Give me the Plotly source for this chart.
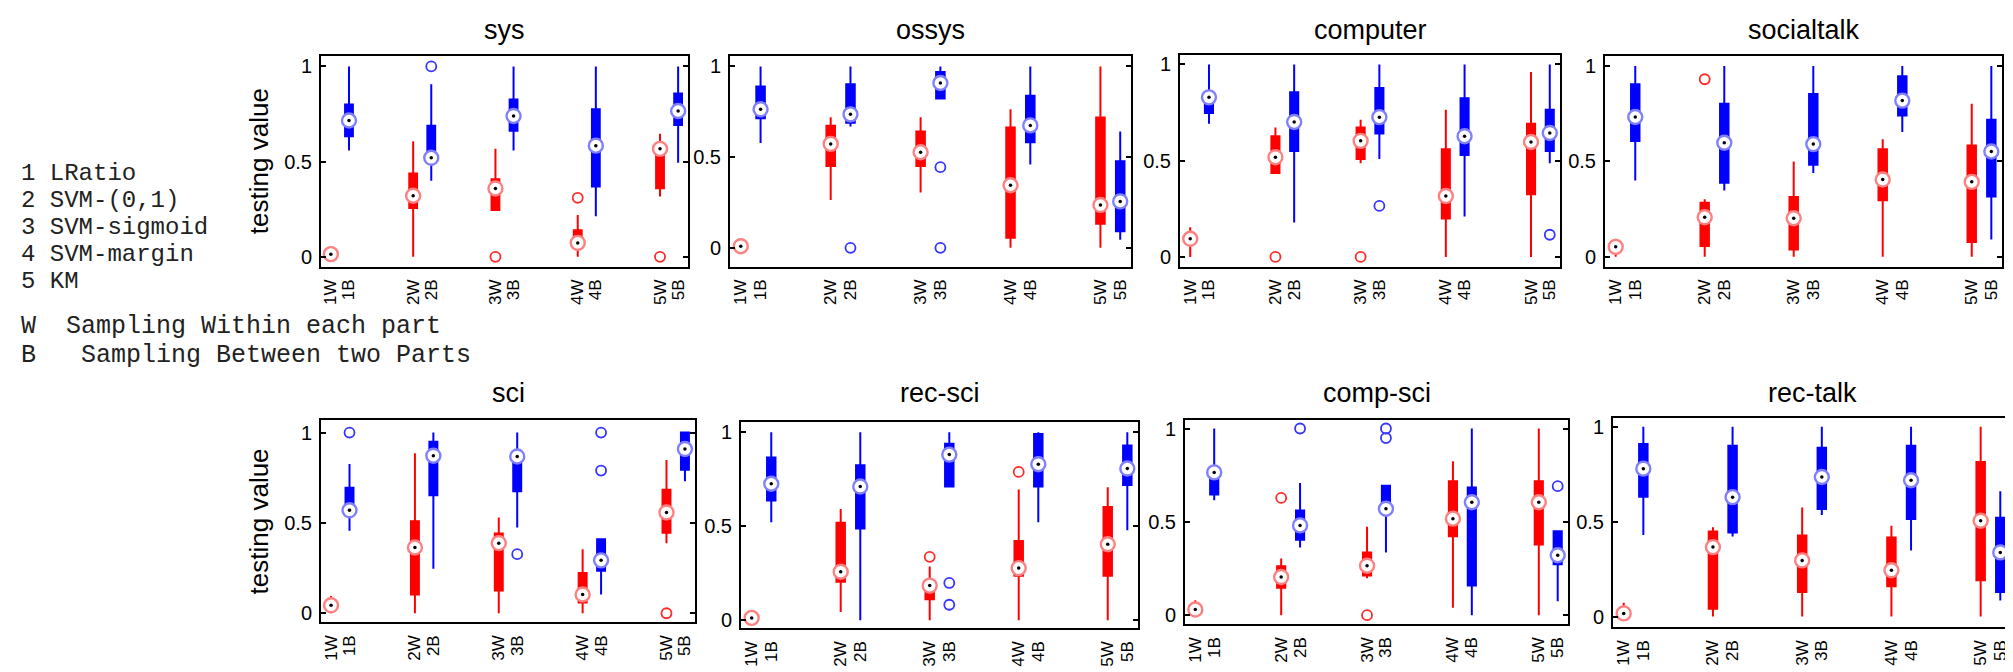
import plotly.graph_objects as go

# ---------------- data (each entry: [lower whisker, q1, median, q3, upper whisker]) ----------------
groups = ["1", "2", "3", "4", "5"]
panel_names = ["sys", "ossys", "computer", "socialtalk", "sci", "rec-sci", "comp-sci", "rec-talk"]

sys_W = [[0.0, 0.005, 0.014, 0.02, 0.03], [0.0, 0.256, 0.321, 0.438, 0.607], [0.24, 0.246, 0.359, 0.407, 0.567],
         [0.0, 0.052, 0.073, 0.139, 0.22], [0.317, 0.36, 0.567, 0.58, 0.646]]
sys_B = [[0.558, 0.633, 0.716, 0.80, 1.0], [0.399, 0.51, 0.52, 0.688, 0.906], [0.558, 0.662, 0.74, 0.827, 1.0],
         [0.213, 0.369, 0.584, 0.775, 1.0], [0.494, 0.693, 0.766, 0.858, 1.0]]
sys_W_out = [[], [], [0.0], [0.31], [0.0]]
sys_B_out = [[], [1.0], [], [], []]

ossys_W = [[0.0, 0.0, 0.009, 0.015, 0.02], [0.264, 0.451, 0.573, 0.673, 0.72], [0.305, 0.451, 0.527, 0.642, 0.72],
           [0.0, 0.055, 0.345, 0.664, 0.764], [0.0, 0.133, 0.236, 0.718, 1.0]]
ossys_B = [[0.578, 0.715, 0.764, 0.89, 1.0], [0.669, 0.69, 0.736, 0.902, 1.0], [0.824, 0.824, 0.909, 0.969, 1.0],
           [0.46, 0.582, 0.675, 0.838, 1.0], [0.045, 0.091, 0.256, 0.478, 0.642]]
ossys_W_out = [[], [], [], [], []]
ossys_B_out = [[], [0.0], [0.445, 0.0], [], []]

computer_W = [[0.0, 0.08, 0.094, 0.11, 0.154], [0.436, 0.436, 0.518, 0.627, 0.672], [0.487, 0.508, 0.603, 0.672, 0.713],
              [0.0, 0.2, 0.316, 0.559, 0.764], [0.0, 0.325, 0.597, 0.692, 0.96]]
computer_B = [[0.692, 0.747, 0.829, 0.855, 1.0], [0.179, 0.55, 0.701, 0.855, 1.0], [0.508, 0.641, 0.726, 0.877, 1.0],
              [0.21, 0.53, 0.627, 0.824, 1.0], [0.487, 0.55, 0.644, 0.764, 1.0]]
computer_W_out = [[], [0.0], [0.0], [], []]
computer_B_out = [[], [], [0.265], [], [0.115]]

socialtalk_W = [[0.0, 0.03, 0.052, 0.07, 0.095], [0.0, 0.057, 0.207, 0.284, 0.302], [0.0, 0.038, 0.202, 0.314, 0.5],
                [0.0, 0.297, 0.405, 0.564, 0.616], [0.0, 0.078, 0.393, 0.583, 0.802]]
socialtalk_B = [[0.4, 0.607, 0.733, 0.905, 1.0], [0.348, 0.388, 0.598, 0.802, 1.0], [0.44, 0.483, 0.591, 0.853, 1.0],
                [0.655, 0.741, 0.819, 0.947, 1.0], [0.09, 0.316, 0.552, 0.719, 1.0]]
socialtalk_W_out = [[], [0.931], [], [], []]
socialtalk_B_out = [[], [], [], [], []]

sci_W = [[0.0, 0.03, 0.044, 0.07, 0.095], [0.0, 0.104, 0.364, 0.51, 0.885], [0.0, 0.126, 0.388, 0.442, 0.53],
         [0.0, 0.059, 0.104, 0.223, 0.355], [0.388, 0.446, 0.558, 0.684, 0.848]]
sci_B = [[0.457, 0.552, 0.57, 0.695, 0.826], [0.247, 0.653, 0.872, 0.949, 1.0], [0.475, 0.675, 0.868, 0.872, 1.0],
         [0.104, 0.236, 0.293, 0.41, 0.41], [0.731, 0.795, 0.909, 1.0, 1.0]]
sci_W_out = [[], [], [], [], [0.0]]
sci_B_out = [[1.0], [], [0.327], [1.0, 0.79], []]

recsci_W = [[0.0, 0.0, 0.012, 0.02, 0.03], [0.044, 0.205, 0.258, 0.518, 0.591], [0.0, 0.111, 0.184, 0.202, 0.286],
            [0.0, 0.237, 0.277, 0.421, 0.696], [0.0, 0.237, 0.404, 0.602, 0.707]]
recsci_B = [[0.521, 0.637, 0.726, 0.865, 1.0], [0.0, 0.488, 0.711, 0.825, 1.0], [0.711, 0.711, 0.881, 0.939, 1.0],
            [0.521, 0.711, 0.83, 0.991, 1.0], [0.479, 0.719, 0.807, 0.93, 1.0]]
recsci_W_out = [[], [], [0.337], [0.789], []]
recsci_B_out = [[], [], [0.198, 0.082], [], []]

compsci_W = [[0.0, 0.02, 0.03, 0.045, 0.08], [0.0, 0.147, 0.204, 0.262, 0.304], [0.198, 0.212, 0.265, 0.335, 0.473],
             [0.039, 0.423, 0.517, 0.718, 0.824], [0.0, 0.379, 0.605, 0.718, 1.0]]
compsci_B = [[0.616, 0.646, 0.765, 0.782, 1.0], [0.363, 0.404, 0.481, 0.561, 0.708], [0.335, 0.547, 0.57, 0.693, 0.693],
             [0.0, 0.159, 0.605, 0.684, 1.0], [0.074, 0.273, 0.321, 0.45, 0.45]]
compsci_W_out = [[], [0.628], [0.0], [], []]
compsci_B_out = [[], [1.0], [1.0, 0.949], [], [0.691]]

rectalk_W = [[0.0, 0.0, 0.017, 0.04, 0.073], [0.0, 0.042, 0.366, 0.448, 0.47], [0.0, 0.129, 0.296, 0.427, 0.575],
             [0.0, 0.16, 0.244, 0.416, 0.479], [0.0, 0.192, 0.505, 0.814, 1.0]]
rectalk_B = [[0.43, 0.631, 0.779, 0.909, 1.0], [0.422, 0.443, 0.629, 0.9, 1.0], [0.535, 0.566, 0.735, 0.889, 1.0],
             [0.348, 0.514, 0.718, 0.9, 1.0], [0.085, 0.129, 0.338, 0.521, 0.66]]
rectalk_W_out = [[], [], [], [], []]
rectalk_B_out = [[], [], [], [], []]

legend_lines = ["1 LRatio", "2 SVM-(0,1)", "3 SVM-sigmoid", "4 SVM-margin", "5 KM"]
note_lines = ["W  Sampling Within each part", "B   Sampling Between two Parts"]
y_ticks = [0, 0.5, 1]
y_ticktext = ["0", "0.5", "1"]

panel_data = [
    (sys_W, sys_B, sys_W_out, sys_B_out),
    (ossys_W, ossys_B, ossys_W_out, ossys_B_out),
    (computer_W, computer_B, computer_W_out, computer_B_out),
    (socialtalk_W, socialtalk_B, socialtalk_W_out, socialtalk_B_out),
    (sci_W, sci_B, sci_W_out, sci_B_out),
    (recsci_W, recsci_B, recsci_W_out, recsci_B_out),
    (compsci_W, compsci_B, compsci_W_out, compsci_B_out),
    (rectalk_W, rectalk_B, rectalk_W_out, rectalk_B_out),
]

# ---------------- layout geometry (pixels) ----------------
W, H = 2013, 672
frames = [  # left, right, top, bottom
    (313, 680, 45, 258), (722, 1123, 45, 258), (1172, 1552, 44, 258), (1597, 1994, 45, 258),
    (313, 687, 413, 617), (733, 1130, 415, 623), (1177, 1560, 413, 619), (1605, 2003, 411, 622),
]
y_ranges = [
    (-0.052, 1.057), (-0.104, 1.06), (-0.051, 1.051), (-0.052, 1.055),
    (-0.051, 1.068), (-0.044, 1.053), (-0.05, 1.044), (-0.057, 1.044),
]
title_y = [19, 19, 19, 19, 385, 385, 385, 385]
x_range = (0.88, 5.34)
OFFSET = 0.22

RED, BLUE = "#ff0000", "#0000ff"
RED_RING, BLUE_RING = "#ff8080", "#8080ff"
RED_OUT, BLUE_OUT = "#ff2a2a", "#3535ff"
SANS = "Liberation Sans, Arial, sans-serif"
MONO = "Liberation Mono, Courier New, monospace"

fig = go.Figure()
layout_axes = {}
annotations = []

pos_W = [int(g) for g in groups]
pos_B = [int(g) + OFFSET for g in groups]
tickvals = []
ticktext = []
for g in groups:
    tickvals += [int(g), int(g) + OFFSET]
    ticktext += [g + "W", g + "B"]

for i, (name, data, fr, yr) in enumerate(zip(panel_names, panel_data, frames, y_ranges)):
    k = i + 1
    xa = "x" if k == 1 else f"x{k}"
    ya = "y" if k == 1 else f"y{k}"
    Wd, Bd, Wo, Bo = data
    for stats, pos, col, ring, outs, ocol in ((Wd, pos_W, RED, RED_RING, Wo, RED_OUT),
                                            (Bd, pos_B, BLUE, BLUE_RING, Bo, BLUE_OUT)):
        fig.add_trace(go.Box(
            x=pos, lowerfence=[s[0] for s in stats], q1=[s[1] for s in stats],
            median=[s[2] for s in stats], q3=[s[3] for s in stats], upperfence=[s[4] for s in stats],
            fillcolor=col, line=dict(color=col, width=2), width=0.095, whiskerwidth=0,
            boxpoints=False, xaxis=xa, yaxis=ya, showlegend=False, hoverinfo="skip"))
        ox, oy = [], []
        for p, o in zip(pos, outs):
            for v in o:
                ox.append(p)
                oy.append(v)
        if ox:
            fig.add_trace(go.Scatter(
                x=ox, y=oy, mode="markers", xaxis=xa, yaxis=ya, showlegend=False, hoverinfo="skip",
                marker=dict(symbol="circle-open", size=10, color=ocol, line=dict(width=1.8, color=ocol))))
        fig.add_trace(go.Scatter(
            x=pos, y=[s[2] for s in stats], mode="markers", xaxis=xa, yaxis=ya, showlegend=False,
            hoverinfo="skip", marker=dict(symbol="circle", size=14, color="white", line=dict(width=2.4, color=ring))))
        fig.add_trace(go.Scatter(
            x=pos, y=[s[2] for s in stats], mode="markers", xaxis=xa, yaxis=ya, showlegend=False,
            hoverinfo="skip", marker=dict(symbol="circle", size=3.5, color="black")))

    l, r, t, b = fr
    layout_axes["xaxis" if k == 1 else f"xaxis{k}"] = dict(
        domain=[l / W, r / W], anchor=ya, range=list(x_range), tickmode="array", tickvals=tickvals,
        ticktext=ticktext, tickangle=-90, ticks="", showline=True, linecolor="black", linewidth=2,
        mirror=True, showgrid=False, zeroline=False, ticklabelstandoff=4,
        tickfont=dict(family=SANS, size=17, color="black"))
    layout_axes["yaxis" if k == 1 else f"yaxis{k}"] = dict(
        domain=[1 - b / H, 1 - t / H], anchor=xa, range=list(yr), tickmode="array", tickvals=y_ticks,
        ticktext=y_ticktext, ticks="inside", ticklen=5, tickwidth=1.5, tickcolor="black",
        showline=True, linecolor="black", linewidth=2, mirror="allticks", showgrid=False, zeroline=False,
        ticklabelstandoff=3, tickfont=dict(family=SANS, size=20, color="black"))
    annotations.append(dict(
        text=name, x=(l + r) / 2 / W, y=1 - title_y[i] / H, xref="paper", yref="paper", xanchor="center",
        yanchor="middle", showarrow=False, font=dict(family=SANS, size=27, color="black")))
    if k in (1, 5):
        annotations.append(dict(
            text="testing value", x=251 / W, y=1 - (t + b) / 2 / H, xref="paper", yref="paper",
            xanchor="center", yanchor="middle", textangle=-90, showarrow=False,
            font=dict(family=SANS, size=26, color="black")))

legend_y = [164, 191.2, 218.4, 245.6, 272.8]
for txt, yy in zip(legend_lines, legend_y):
    annotations.append(dict(
        text=txt.replace(" ", "\u00a0"), x=11 / W, y=1 - yy / H, xref="paper", yref="paper", xanchor="left",
        yanchor="middle", showarrow=False, font=dict(family=MONO, size=24, color="#222222")))
for txt, yy in zip(note_lines, [318.5, 347.5]):
    annotations.append(dict(
        text=txt.replace(" ", "\u00a0"), x=11 / W, y=1 - yy / H, xref="paper", yref="paper", xanchor="left",
        yanchor="middle", showarrow=False, font=dict(family=MONO, size=25, color="#222222")))

fig.update_layout(
    width=W, height=H, margin=dict(l=0, r=0, t=0, b=0), paper_bgcolor="white", plot_bgcolor="white",
    showlegend=False, annotations=annotations, **layout_axes)

fig.write_html("out.html")
